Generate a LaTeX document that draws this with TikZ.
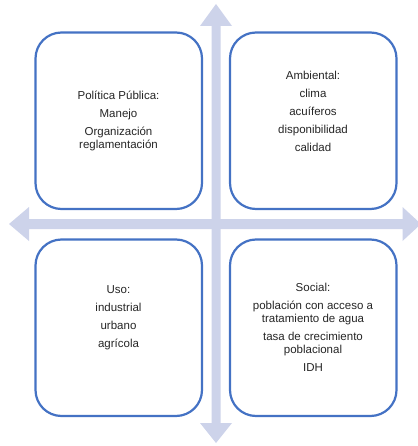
\documentclass[tikz,border=0pt]{standalone}
\usepackage{fontspec}
\setmainfont{Liberation Sans}
\definecolor{boxblue}{HTML}{4472C4}
\definecolor{arrowfill}{HTML}{CDD3EA}
\begin{document}
\begin{tikzpicture}[x=1pt,y=-1pt,
  quad/.style={draw=boxblue, line width=2.2pt, rounded corners=26pt, fill=white},
  txt/.style={align=center, font=\fontsize{11.5}{13}\selectfont, text=black!85, inner sep=0pt},
  axisfill/.style={fill=arrowfill, draw=none}]
\useasboundingbox (0,0) rectangle (417,446);
% axes
\fill[axisfill] (216,4) -- (232,26) -- (220.5,26) -- (220.5,423) -- (232,423) -- (216,443)
  -- (200,423) -- (211.5,423) -- (211.5,26) -- (200,26) -- cycle;
\fill[axisfill] (9,224) -- (29,207) -- (29,219.2) -- (402.5,219.2) -- (402.5,207) -- (421,224)
  -- (402.5,241) -- (402.5,229) -- (29,229) -- (29,241) -- cycle;
% boxes
\draw[quad] (35.5,32.5) rectangle (202,209) node[coordinate] (tl) {};
\draw[quad] (230,32.5) rectangle (396.5,209) node[coordinate] (tr) {};
\draw[quad] (35.5,239.5) rectangle (202,416) node[coordinate] (bl) {};
\draw[quad] (230,239.5) rectangle (396.5,416) node[coordinate] (br) {};
% texts
\node[txt] (t1) at (118.5,120.5) {Política Pública:\\[5pt] Manejo\\[5pt] Organización\\ reglamentación};
\node[txt] (t2) at (313,111.5) {Ambiental:\\[5pt] clima\\[5pt] acuíferos\\[5pt] disponibilidad\\[5pt] calidad};
\node[txt] (t3) at (118.5,318) {Uso:\\[5pt] industrial\\[5pt] urbano\\[5pt] agrícola};
\node[txt] (t4) at (313,327) {Social:\\[5pt] población con acceso a\\ tratamiento de agua\\[5pt] tasa de crecimiento\\ poblacional\\[5pt] IDH};
\end{tikzpicture}
\end{document}
